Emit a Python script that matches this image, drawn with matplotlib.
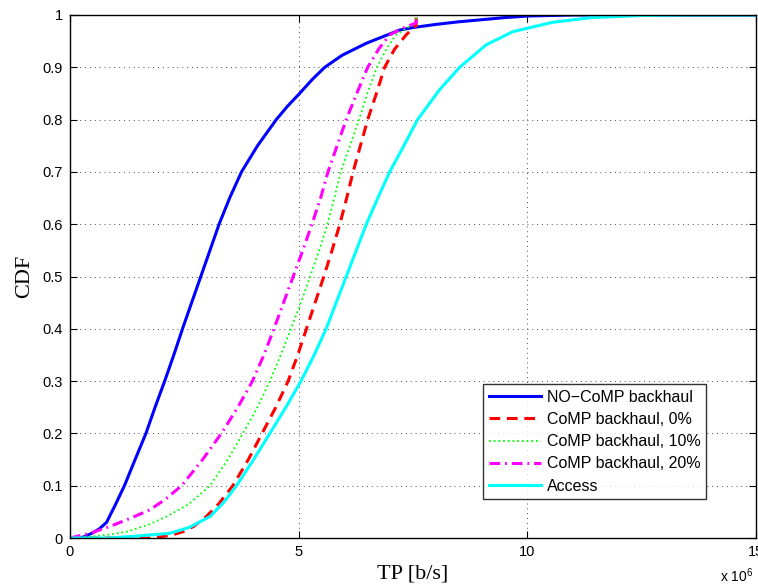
import matplotlib
matplotlib.use("Agg")
import matplotlib.pyplot as plt
from matplotlib.ticker import FixedLocator, FixedFormatter

plt.rcParams['font.family'] = ['Liberation Sans', 'DejaVu Sans']
plt.rcParams['mathtext.fontset'] = 'custom'
plt.rcParams['mathtext.rm'] = 'Liberation Sans'
plt.rcParams['mathtext.it'] = 'Liberation Sans'

# data (x in units of 1e6 b/s)
nocomp_x = [0, 0.2, 0.3, 0.5, 0.65, 0.8, 1.0, 1.19, 1.4, 1.66, 1.86, 2.07, 2.27, 2.46, 2.66, 2.86,
            3.06, 3.26, 3.49, 3.75, 4.1, 4.51, 4.75, 5.02, 5.3, 5.57, 5.95, 6.48, 7.2, 7.5, 8.0,
            8.5, 9.0, 9.5, 10.0, 11.0, 15.0]
nocomp_y = [0, 0.0, 0.002, 0.01, 0.018, 0.03, 0.065, 0.1, 0.145, 0.2, 0.25, 0.3, 0.35, 0.4, 0.45, 0.5,
            0.55, 0.6, 0.65, 0.7, 0.75, 0.8, 0.825, 0.85, 0.877, 0.9, 0.923, 0.946, 0.971, 0.976, 0.982,
            0.987, 0.991, 0.995, 0.998, 1.0, 1.0]

comp0_x = [0, 1.0, 1.75, 2.2, 2.47, 2.7, 2.98, 3.25, 3.56, 3.9, 4.2, 4.5, 4.77, 4.98, 5.17, 5.36,
           5.55, 5.73, 5.9, 6.05, 6.19, 6.35, 6.51, 6.7, 6.88, 7.1, 7.35, 7.5, 7.57, 7.57]
comp0_y = [0, 0.0, 0.0, 0.005, 0.012, 0.022, 0.041, 0.065, 0.1, 0.15, 0.2, 0.25, 0.3, 0.35, 0.4, 0.45,
           0.5, 0.55, 0.6, 0.65, 0.7, 0.75, 0.8, 0.85, 0.9, 0.935, 0.962, 0.975, 0.98, 1.0]

comp10_x = [0, 0.5, 0.9, 1.24, 1.7, 2.11, 2.6, 3.06, 3.45, 3.78, 4.1, 4.37, 4.61, 4.83, 5.05, 5.25, 5.45,
            5.63, 5.78, 5.92, 6.12, 6.32, 6.5, 6.71, 6.92, 7.13, 7.42, 7.57, 7.57]
comp10_y = [0, 0.003, 0.007, 0.012, 0.025, 0.041, 0.065, 0.1, 0.15, 0.2, 0.25, 0.3, 0.35, 0.4, 0.45, 0.5, 0.55,
            0.6, 0.65, 0.7, 0.75, 0.8, 0.85, 0.9, 0.935, 0.962, 0.978, 0.983, 1.0]

comp20_x = [0, 0.44, 0.87, 1.3, 1.75, 2.1, 2.44, 2.9, 3.31, 3.67, 3.99, 4.24, 4.46, 4.67, 4.88, 5.09,
            5.29, 5.48, 5.64, 5.84, 6.04, 6.27, 6.51, 6.75, 6.99, 7.28, 7.57, 7.57]
comp20_y = [0, 0.009, 0.022, 0.037, 0.054, 0.075, 0.1, 0.15, 0.2, 0.25, 0.3, 0.35, 0.4, 0.45, 0.5, 0.55,
            0.6, 0.65, 0.7, 0.75, 0.8, 0.85, 0.9, 0.935, 0.962, 0.975, 0.985, 1.0]

access_x = [0, 0.87, 1.5, 2.18, 2.6, 3.06, 3.35, 3.64, 4.0, 4.37, 4.72, 5.05, 5.34, 5.6, 5.82, 6.04,
            6.26, 6.48, 6.73, 6.99, 7.3, 7.6, 8.08, 8.52, 9.1, 9.68, 10.55, 11.4, 12.5, 13.5, 15.0]
access_y = [0, 0.0, 0.004, 0.009, 0.02, 0.041, 0.067, 0.1, 0.148, 0.2, 0.25, 0.3, 0.35, 0.4, 0.45, 0.5,
            0.55, 0.6, 0.65, 0.7, 0.75, 0.8, 0.857, 0.9, 0.943, 0.968, 0.986, 0.995, 0.999, 1.0, 1.0]

labels = ['NO\u2212CoMP backhaul', 'CoMP backhaul, 0%', 'CoMP backhaul, 10%',
          'CoMP backhaul, 20%', 'Access']
xticks = [0, 5, 10, 15]
xtick_labels = ['0', '5', '10', '15']
yticks = [0, 0.1, 0.2, 0.3, 0.4, 0.5, 0.6, 0.7, 0.8, 0.9, 1.0]
ytick_labels = ['0', '0.1', '0.2', '0.3', '0.4', '0.5', '0.6', '0.7', '0.8', '0.9', '1']

fig = plt.figure(figsize=(7.58, 5.87), dpi=100)
ax = fig.add_axes([70/758, 49/587, 686/758, 523/587])

ax.plot(nocomp_x, nocomp_y, color='#0000ff', lw=2.2, ls='-', label=labels[0])
ax.plot(comp0_x, comp0_y, color='#ff0000', lw=2.2, ls=(0, (3.5, 2.2)), label=labels[1])
ax.plot(comp10_x, comp10_y, color='#00ff00', lw=1.3, ls=(0, (1, 1.6)), label=labels[2])
ax.plot(comp20_x, comp20_y, color='#ff00ff', lw=2.2, ls=(0, (3.5, 1.6, 0.6, 1.6)), label=labels[3])
ax.plot(access_x, access_y, color='#00ffff', lw=2.2, ls='-', label=labels[4])

ax.set_xlim(0, 15)
ax.set_ylim(0, 1)
ax.xaxis.set_major_locator(FixedLocator(xticks))
ax.xaxis.set_major_formatter(FixedFormatter(xtick_labels))
ax.yaxis.set_major_locator(FixedLocator(yticks))
ax.yaxis.set_major_formatter(FixedFormatter(ytick_labels))
ax.tick_params(direction='in', top=True, right=True, length=5, width=0.8,
               labelsize=10.5, colors='black', pad=5)
ax.grid(True, ls=(0, (1, 4)), color='0.3', lw=0.7)
for s in ax.spines.values():
    s.set_linewidth(1.0)
    s.set_color('black')

ax.set_xlabel('TP [b/s]', family=['Liberation Serif'], fontsize=16, labelpad=4)
ax.set_ylabel('CDF', family=['Liberation Serif'], fontsize=16, labelpad=6)

fig.text(720/758, 1 - 582/587, r'x 10$^6$', fontsize=10, ha='left', va='baseline')

leg = ax.legend(loc='upper left', bbox_to_anchor=(0.602, 0.294), borderaxespad=0,
                fontsize=11.5, frameon=True, fancybox=False, edgecolor='black',
                handlelength=3.3, handletextpad=0.35, labelspacing=0.45,
                borderpad=0.35)
leg.get_frame().set_linewidth(1.0)

fig.savefig('out.png', dpi=100)
